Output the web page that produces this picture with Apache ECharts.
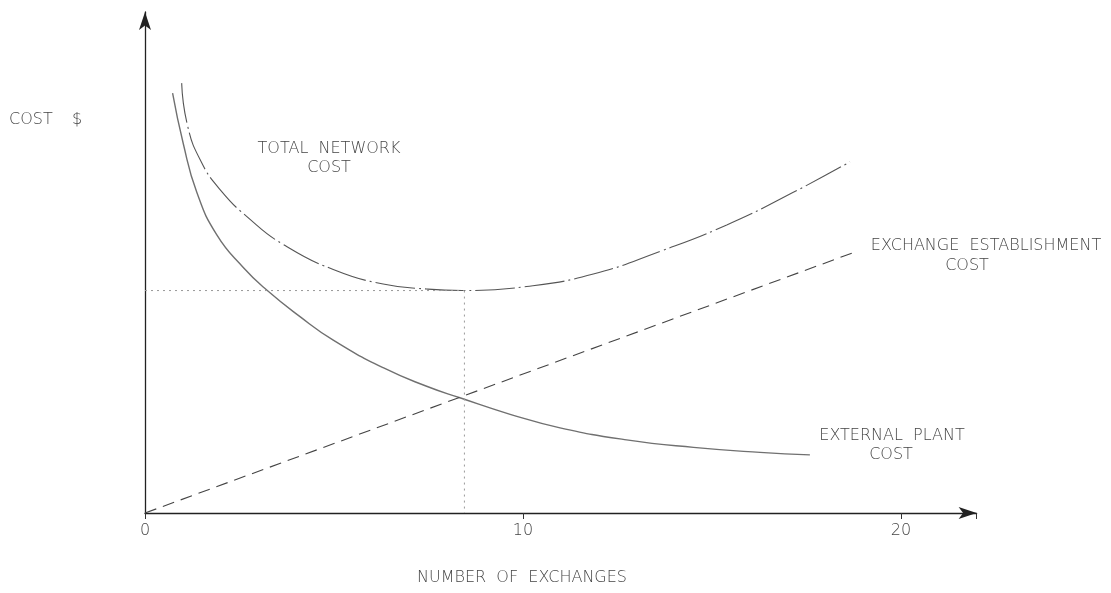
<!DOCTYPE html>
<html>
<head>
<meta charset="utf-8">
<script src="https://cdn.jsdelivr.net/npm/echarts@6/dist/echarts.min.js"></script>
<style>html,body{margin:0;padding:0;background:#fff;}#c{width:1111px;height:593px;}</style>
</head>
<body>
<div id="c"></div>
<script>
// x: number of exchanges, y: cost (relative units 0-100)
const xTicks = [0, 10, 20];
const externalPlantCost = [
  [0.73, 83.8], [1.01, 73.8], [1.37, 64.0], [1.90, 55.5], [2.60, 49.0], [3.22, 44.5],
  [4.10, 39.2], [4.98, 34.5], [6.30, 29.0], [7.45, 25.3], [8.33, 23.0], [9.66, 19.7],
  [10.98, 17.0], [12.74, 14.6], [14.51, 13.1], [16.27, 12.1], [17.59, 11.6]
];
const totalNetworkCost = [
  [0.97, 85.8], [1.12, 77.5], [1.46, 70.5], [1.98, 64.6], [2.78, 58.6], [3.66, 53.6],
  [4.98, 48.6], [6.30, 45.7], [7.45, 44.7], [8.39, 44.4], [10.10, 45.2], [11.86, 47.7],
  [13.62, 52.2], [15.39, 57.5], [17.15, 64.0], [18.65, 70.1]
];
const exchangeEstablishmentCost = [[0, 0], [18.75, 52]];
const optimumHorizontal = [[0, 44.4], [8.45, 44.4]];
const optimumVertical = [[8.45, 44.4], [8.45, 0]];

const chart = echarts.init(document.getElementById('c'));
const txt = (x, y, text, align) => ({
  type: 'text', x: x, y: y,
  style: {
    text: text, fill: '#444', font: '200 16px "DejaVu Sans"',
    align: align || 'left', verticalAlign: 'middle',
    textAlign: align || 'left', textVerticalAlign: 'middle'
  }
});
chart.setOption({
  animation: false,
  grid: { left: 145, top: 12, width: 831.6, height: 501 },
  xAxis: {
    type: 'value', min: 0, max: 22, interval: 10,
    splitLine: { show: false },
    axisLine: { lineStyle: { color: '#222', width: 1.3 }, symbol: ['none', 'arrow'], symbolSize: [9, 18] },
    axisTick: { show: true, length: 6, lineStyle: { color: '#333' } },
    axisLabel: {
      color: '#444', fontSize: 16, fontFamily: 'DejaVu Sans', fontWeight: 200, margin: 10,
      formatter: v => (xTicks.indexOf(v) >= 0 ? String(v) : '')
    }
  },
  yAxis: {
    type: 'value', min: 0, max: 100,
    splitLine: { show: false },
    axisLine: { lineStyle: { color: '#222', width: 1.3 }, symbol: ['none', 'arrow'], symbolSize: [9, 18] },
    axisTick: { show: false }, axisLabel: { show: false }
  },
  series: [
    { type: 'line', data: externalPlantCost, smooth: 0.5, symbol: 'none',
      lineStyle: { color: '#707070', width: 1.4 } },
    { type: 'line', data: totalNetworkCost, smooth: 0.5, symbol: 'none',
      lineStyle: { color: '#555', width: 1.1, type: [40, 4, 2, 4] } },
    { type: 'line', data: exchangeEstablishmentCost, symbol: 'none',
      lineStyle: { color: '#444', width: 1.1, type: [12, 7] } },
    { type: 'line', data: optimumHorizontal, symbol: 'none',
      lineStyle: { color: '#999', width: 1, type: [2, 4] } },
    { type: 'line', data: optimumVertical, symbol: 'none',
      lineStyle: { color: '#999', width: 1, type: [2, 4] } }
  ],
  graphic: [
    txt(9, 120, 'COST'),
    txt(72, 120, '$'),
    txt(329, 149, 'TOTAL  NETWORK', 'center'),
    txt(329, 168, 'COST', 'center'),
    txt(986, 246, 'EXCHANGE  ESTABLISHMENT', 'center'),
    txt(967, 266, 'COST', 'center'),
    txt(892, 436, 'EXTERNAL  PLANT', 'center'),
    txt(891, 455, 'COST', 'center'),
    txt(522, 578, 'NUMBER  OF  EXCHANGES', 'center')
  ]
});
</script>
</body>
</html>
